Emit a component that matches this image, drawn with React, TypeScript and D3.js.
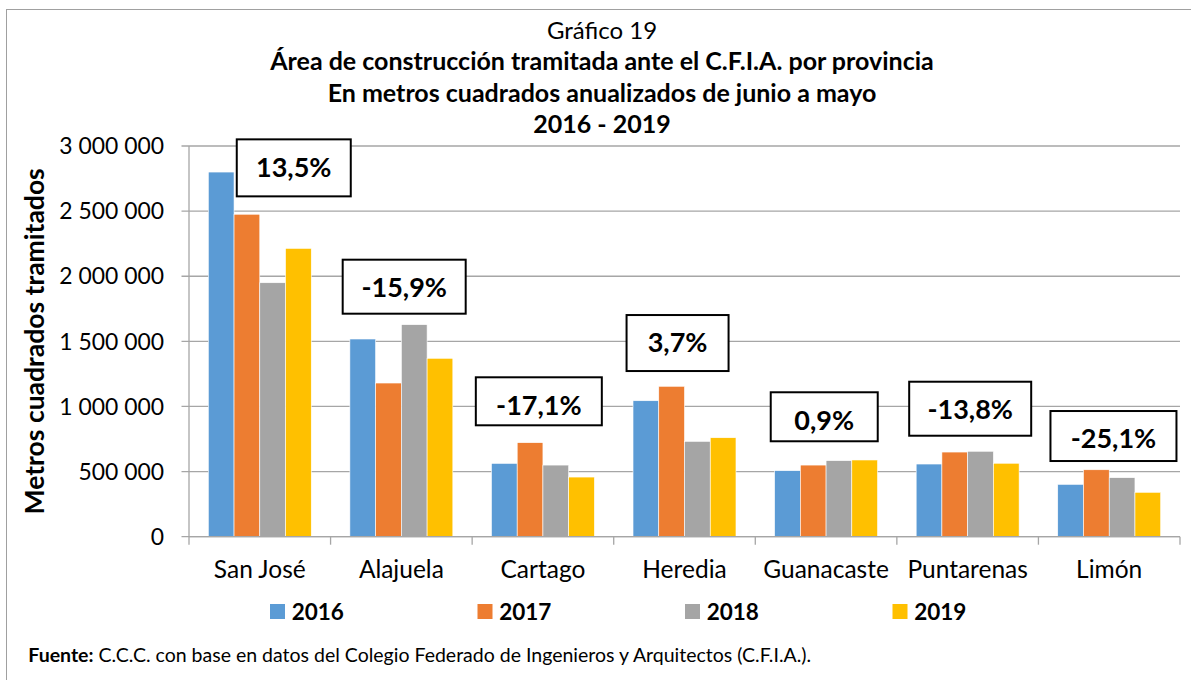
import React from "react";
import * as d3 from "d3";

// provincias y años
const categories = ["San José", "Alajuela", "Cartago", "Heredia", "Guanacaste", "Puntarenas", "Limón"];
const years = ["2016", "2017", "2018", "2019"];

// metros cuadrados anualizados
const v2016 = [2800000, 1518000, 563000, 1044000, 507000, 558000, 402000];
const v2017 = [2476000, 1180000, 722000, 1155000, 550000, 650000, 514000];
const v2018 = [1950000, 1628000, 550000, 732000, 584000, 656000, 453000];
const v2019 = [2214000, 1370000, 458000, 760000, 589000, 564000, 341000];

// variación 2019 / 2018
const changes = ["13,5%", "-15,9%", "-17,1%", "3,7%", "0,9%", "-13,8%", "-25,1%"];

const yTicks = [0, 500000, 1000000, 1500000, 2000000, 2500000, 3000000];

const titleLines = [
  "Área de construcción tramitada ante el C.F.I.A. por provincia",
  "En metros cuadrados anualizados de junio a mayo",
  "2016 - 2019",
];

// where the % boxes sit: fraction across the category, top edge in m², box size in px
const boxFrac = [0.74, 0.52, 0.471, 0.451, 0.487, 0.518, 0.53];
const boxTop = [3051000, 2127000, 1224000, 1702000, 1109000, 1190000, 965000];
const boxW = [114, 123, 126, 102, 107, 122, 126];
const boxH = [57, 54, 48, 56, 49, 54, 50];

const colors = ["#5B9BD5", "#ED7D31", "#A5A5A5", "#FFC000"];
const FONT = "Lato, 'Open Sans', sans-serif";

const W = 1191;
const H = 680;
const margin = { left: 189, right: 11, top: 146, bottom: 143.3 };

const fmt = d3.formatLocale({ decimal: ",", thousands: " ", grouping: [3], currency: ["", ""] }).format(",");

export default function App() {
  const series = [v2016, v2017, v2018, v2019];

  const x = d3
    .scaleBand()
    .domain(categories)
    .range([margin.left, W - margin.right])
    .paddingInner(1.5 / 5.5)
    .paddingOuter(0.75 / 5.5);

  const xs = d3.scaleBand().domain(years).range([0, x.bandwidth()]);

  const y = d3
    .scaleLinear()
    .domain([0, 3000000])
    .range([H - margin.bottom, margin.top]);

  const step = x.step();
  const half = (step - x.bandwidth()) / 2;
  const bounds = categories.map((c) => (x(c) as number) - half);
  bounds.push(W - margin.right);

  const gridColor = "#a6a6a6";
  const y0 = y(0);

  return (
    <svg width={W} height={H} style={{ position: "absolute", left: 0, top: 0, background: "#fff" }} fontFamily={FONT}>
      <rect x={6.5} y={9.5} width={1250} height={720} fill="#fff" stroke="#a0a0a0" strokeWidth={1} />

      {/* titles */}
      <text x={602} y={39} textAnchor="middle" fontSize={24} fill="#000">
        Gráfico 19
      </text>
      {titleLines.map((t, i) => (
        <text key={t} x={602} y={70.3 + i * 31.4} textAnchor="middle" fontSize={25} fontWeight="bold" fill="#000">
          {t}
        </text>
      ))}

      {/* grid + y axis */}
      {yTicks.map((t) => (
        <g key={t}>
          <line x1={margin.left - 7.5} x2={W - margin.right} y1={y(t)} y2={y(t)} stroke={gridColor} strokeWidth={1.3} />
          <text x={164} y={y(t)} dy="0.36em" textAnchor="end" fontSize={22.9} fill="#000">
            {fmt(t)}
          </text>
        </g>
      ))}
      <line x1={margin.left} x2={margin.left} y1={margin.top} y2={y0} stroke={gridColor} strokeWidth={1.3} />

      {/* bars */}
      {categories.map((c, ci) => (
        <g key={c} transform={`translate(${x(c)},0)`}>
          {years.map((yr, si) => {
            const v = series[si][ci];
            return (
              <rect
                key={yr}
                x={xs(yr)}
                y={y(v)}
                width={xs.bandwidth()}
                height={y0 - y(v)}
                fill={colors[si]}
                stroke="#fff"
                strokeWidth={0.6}
              />
            );
          })}
        </g>
      ))}

      {/* x axis */}
      <line x1={margin.left} x2={W - margin.right} y1={y0} y2={y0} stroke={gridColor} strokeWidth={1.3} />
      {bounds.map((b, i) => (
        <line key={i} x1={b} x2={b} y1={y0} y2={y0 + 8} stroke={gridColor} strokeWidth={1.3} />
      ))}
      {categories.map((c) => (
        <text key={c} x={(x(c) as number) + x.bandwidth() / 2} y={578.3} textAnchor="middle" fontSize={24.5} fill="#000">
          {c}
        </text>
      ))}

      {/* % boxes */}
      {categories.map((c, i) => {
        const cx = bounds[i] + boxFrac[i] * step;
        const top = y(boxTop[i]);
        return (
          <g key={c}>
            <rect x={cx - boxW[i] / 2} y={top} width={boxW[i]} height={boxH[i]} fill="#fff" stroke="#000" strokeWidth={2} />
            <text x={cx} y={top + 37.3} textAnchor="middle" fontSize={27} fontWeight="bold" fill="#000">
              {changes[i]}
            </text>
          </g>
        );
      })}

      {/* y title */}
      <text
        transform={`translate(44,${(margin.top + y0) / 2}) rotate(-90)`}
        textAnchor="middle"
        fontSize={26.5}
        fontWeight="bold"
        fill="#000"
      >
        Metros cuadrados tramitados
      </text>

      {/* legend */}
      {years.map((yr, i) => (
        <g key={yr} transform={`translate(${270 + i * 207.5},604)`}>
          <rect x={0} y={0} width={15} height={15} fill={colors[i]} />
          <text x={21.7} y={16} fontSize={22.5} fontWeight="bold" fill="#000">
            {yr}
          </text>
        </g>
      ))}

      {/* source */}
      <text x={28.3} y={661.7} fontSize={19.5} fill="#000">
        <tspan fontWeight="bold">Fuente:</tspan> C.C.C. con base en datos del Colegio Federado de Ingenieros y Arquitectos (C.F.I.A.).
      </text>
    </svg>
  );
}
